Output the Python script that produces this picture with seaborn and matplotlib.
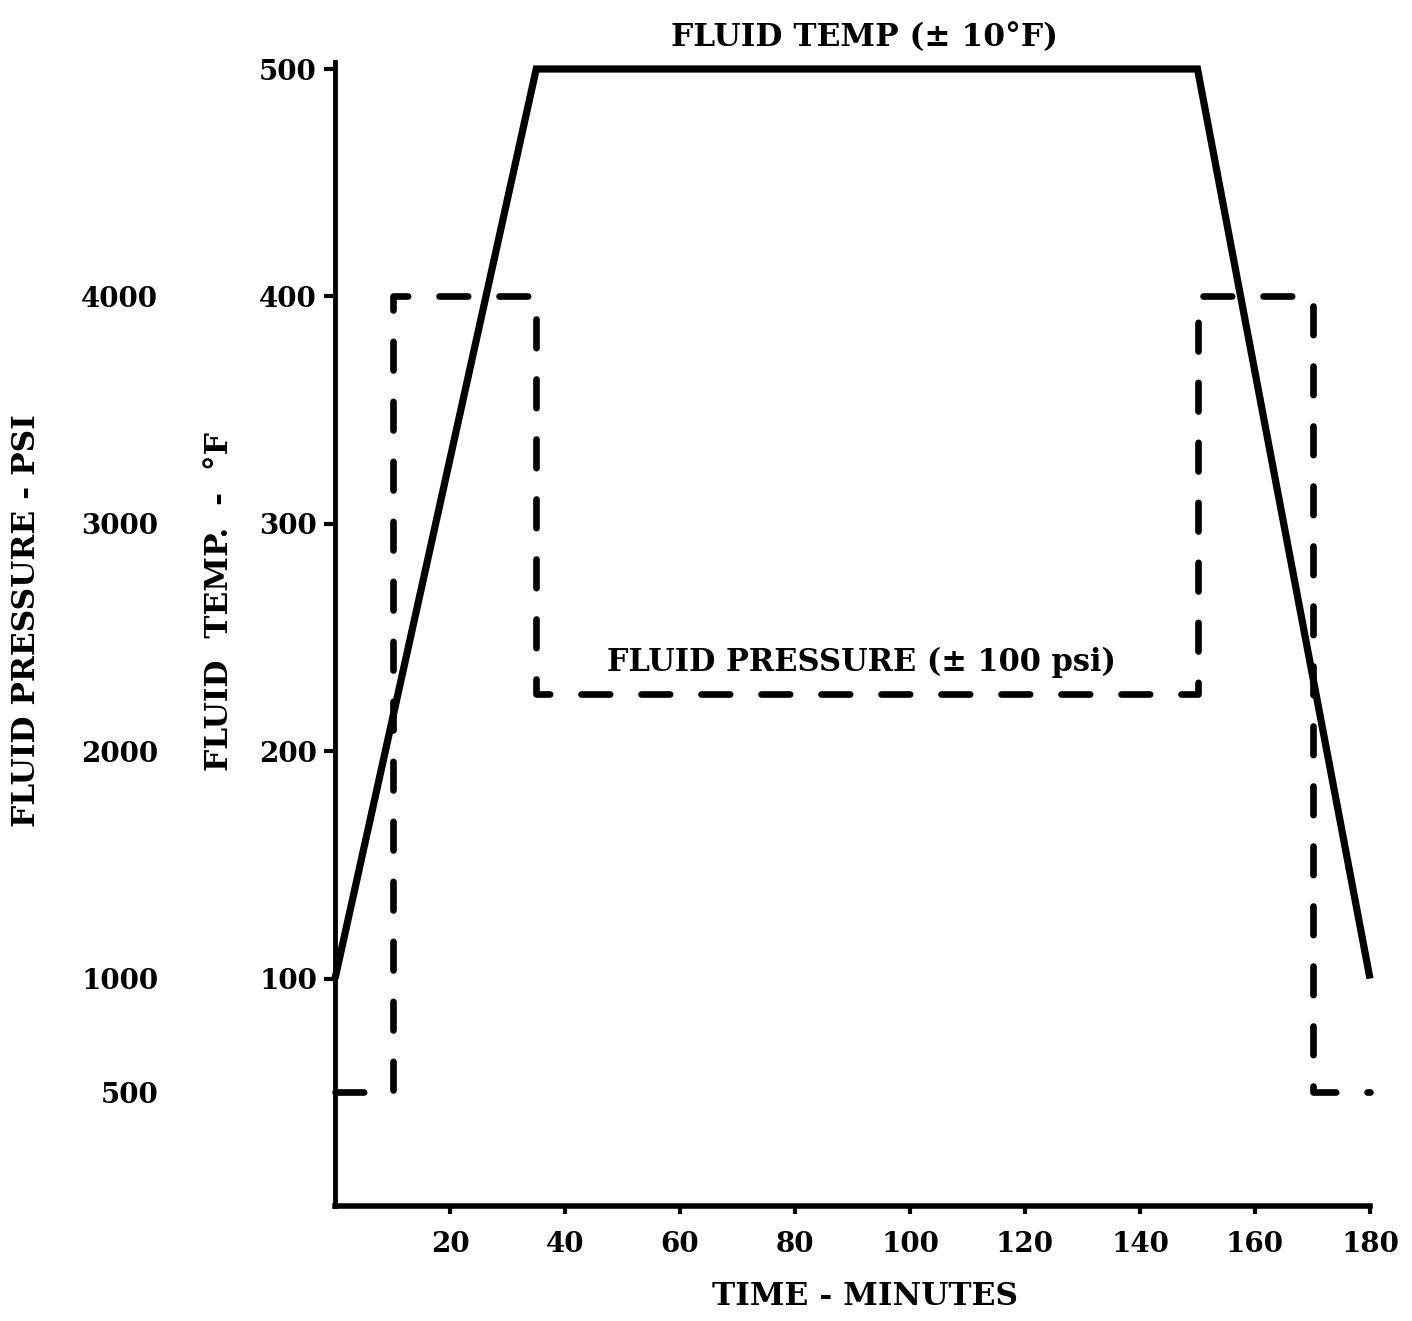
import matplotlib
matplotlib.use("Agg")
import matplotlib.pyplot as plt
import seaborn as sns
import pandas as pd

# Fluid temperature profile (minutes, deg F)
temp_time = [0, 35, 150, 180]
temp_deg = [100, 500, 500, 100]

# Fluid pressure profile (minutes, psi) - stepped
press_time = [0, 10, 10, 35, 35, 150, 150, 170, 170, 180]
press_psi = [500, 500, 4000, 4000, 2250, 2250, 4000, 4000, 500, 500]

time_ticks = [20, 40, 60, 80, 100, 120, 140, 160, 180]
temp_ticks = [100, 200, 300, 400, 500]
press_ticks = [500, 1000, 2000, 3000, 4000]

sns.set_theme(style="ticks")
plt.rcParams["font.family"] = ["DejaVu Serif"]
plt.rcParams["font.weight"] = "bold"

FS = 20
LFS = 22.5
W, H = 1412, 1321
fig = plt.figure(figsize=(W / 100, H / 100), dpi=100)
x0, x1, y0, y1 = 335, 1370, 1206, 69
ax = fig.add_axes([x0 / W, (H - y0) / H, (x1 - x0) / W, (y0 - y1) / H])

temp_df = pd.DataFrame({"time": temp_time, "temp": temp_deg})
press_df = pd.DataFrame({"time": press_time, "psi": press_psi})

sns.lineplot(data=temp_df, x="time", y="temp", ax=ax, estimator=None, sort=False,
             color="black", linewidth=5.2, clip_on=False)
ax.lines[-1].set_solid_capstyle("butt")
ax.lines[-1].set_solid_joinstyle("miter")

ax.set_xlim(0, 180)
ax.set_ylim(0, 500)
ax.set_xticks(time_ticks)
ax.set_yticks(temp_ticks)
ax.tick_params(axis="y", direction="out", length=8, width=3, pad=5,
               labelsize=FS, colors="black")
ax.tick_params(axis="x", direction="out", length=6, width=3, pad=12,
               labelsize=FS, colors="black")
for lab in ax.get_xticklabels() + ax.get_yticklabels():
    lab.set_fontweight("bold")
sns.despine(ax=ax)
for side in ("left", "bottom"):
    ax.spines[side].set_color("black")
ax.spines["left"].set_linewidth(3.5)
ax.spines["bottom"].set_linewidth(4)
ax.spines["left"].set_bounds(0, 503)

# Pressure on a twin axis, labelled on a floating left scale
ax2 = ax.twinx()
sns.lineplot(data=press_df, x="time", y="psi", ax=ax2, estimator=None, sort=False,
             color="black", linewidth=4.8, clip_on=False)
pl = ax2.lines[-1]
pl.set_dashes((4.3, 4.7))
pl.set_dash_capstyle("round")
pl.set_solid_joinstyle("miter")
ax2.set_ylim(0, 5000)
ax2.set_xlim(0, 180)
ax2.set_yticks(press_ticks)
ax2.yaxis.set_ticks_position("left")
ax2.yaxis.set_label_position("left")
for s in ax2.spines.values():
    s.set_visible(False)
ax2.spines["left"].set_position(("axes", -0.168))
ax2.tick_params(axis="y", length=0, pad=2, labelsize=FS, colors="black")
for lab in ax2.get_yticklabels():
    lab.set_fontweight("bold")

ax.set_xlabel("TIME - MINUTES", fontsize=LFS, fontweight="bold", color="black")
ax.xaxis.set_label_coords(0.512, -0.066)
ax.set_ylabel("FLUID  TEMP.  -  °F", fontsize=LFS, fontweight="bold", color="black")
ax.yaxis.set_label_coords(-0.097, 0.532)
ax2.set_ylabel("FLUID PRESSURE - PSI", fontsize=LFS, fontweight="bold", color="black")
ax2.yaxis.set_label_coords(-0.283, 0.515)

ax.text(92, 514, "FLUID TEMP (± 10°F)", ha="center", va="center",
        fontsize=LFS, fontweight="bold", color="black", clip_on=False)
ax.text(91.5, 239, "FLUID PRESSURE (± 100 psi)", ha="center", va="center",
        fontsize=22, fontweight="bold", color="black")

fig.savefig("out.png", dpi=100, facecolor="white")
